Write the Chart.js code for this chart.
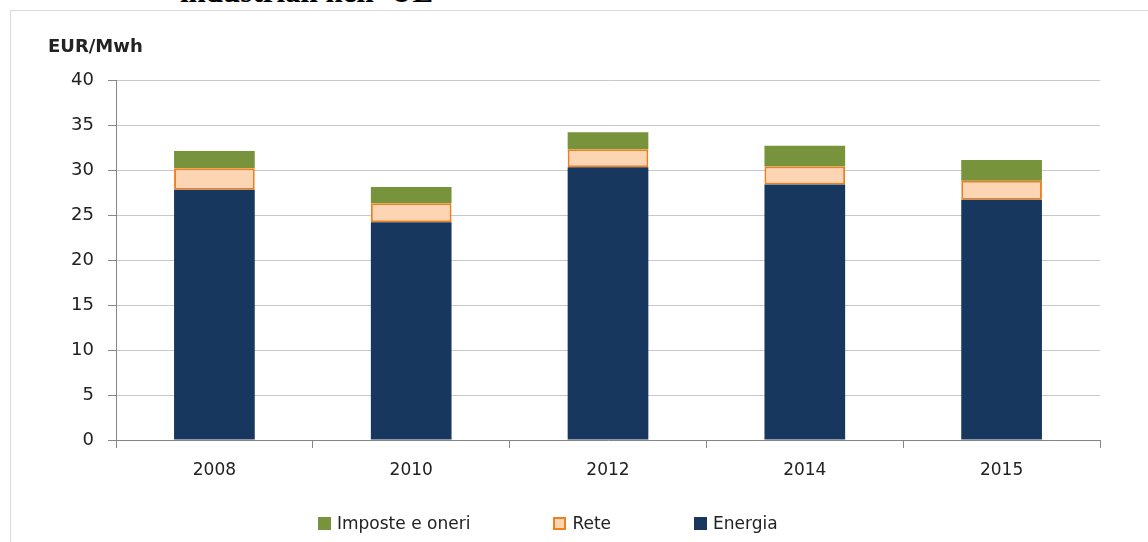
<!DOCTYPE html>
<html>
<head>
<meta charset="utf-8">
<script src="https://cdn.jsdelivr.net/npm/chart.js@4.4.1/dist/chart.umd.min.js"></script>
<style>
  body { margin: 0; background: #fff; }
  #wrap { position: relative; width: 1148px; height: 542px; overflow: hidden; }
  #frame { position: absolute; left: 10px; top: 10px; width: 1200px; height: 600px; border: 1px solid #d9d9d9; }
  #docTitle { position: absolute; left: 180px; top: -24px; font: bold 31px "Liberation Serif", serif; line-height: 31px; color: #000; white-space: nowrap; }
  #chartBox { position: absolute; left: 0; top: 0; width: 1148px; height: 542px; }
  #legend { position: absolute; left: 318px; top: 513px; display: flex; gap: 83px; font: 17px "DejaVu Sans", sans-serif; color: #222; }
  #legend .item { display: flex; align-items: center; }
  #legend .box { width: 13px; height: 13px; margin-right: 6px; box-sizing: border-box; }
</style>
</head>
<body>
<div id="wrap">
  <div id="frame"></div>
  <div id="docTitle">industriali nell' UE</div>
  <div id="chartBox"><canvas id="costChart" width="1148" height="542"></canvas></div>
  <div id="legend"></div>
</div>
<script>
// Data (EUR/Mwh)
const years = ['2008', '2010', '2012', '2014', '2015'];
const energia = [27.8, 24.2, 30.3, 28.4, 26.7];
const rete = [2.4, 2.1, 2.0, 2.0, 2.1];
const imposte = [1.9, 1.8, 1.9, 2.3, 2.3];
const yTicks = [0, 5, 10, 15, 20, 25, 30, 35, 40];

const axisGrey = '#868686';

// y axis title drawn above the axis, like the original
const unitLabel = {
  id: 'unitLabel',
  afterDraw(chart) {
    const c = chart.ctx;
    c.save();
    c.font = 'bold 18px "DejaVu Sans", sans-serif';
    c.fillStyle = '#222';
    c.textBaseline = 'middle';
    c.fillText('EUR/Mwh', chart.chartArea.left - 68, chart.chartArea.top - 33);
    c.restore();
  }
};

const ctx = document.getElementById('costChart').getContext('2d');
const costChart = new Chart(ctx, {
  type: 'bar',
  data: {
    labels: years,
    datasets: [
      { label: 'Energia', data: energia, backgroundColor: '#17375E', borderWidth: 0 },
      { label: 'Rete', data: rete, backgroundColor: '#FCD5B5', borderColor: '#F07F1E', borderWidth: 2, borderSkipped: false },
      { label: 'Imposte e oneri', data: imposte, backgroundColor: '#77933C', borderWidth: 0 }
    ]
  },
  options: {
    responsive: false,
    animation: false,
    layout: { padding: { left: 0, right: 48, top: 80, bottom: 60 } },
    plugins: {
      legend: { display: false },
      tooltip: { enabled: false }
    },
    datasets: { bar: { categoryPercentage: 1, barPercentage: 0.41 } },
    scales: {
      x: {
        stacked: true,
        grid: { drawOnChartArea: false, drawTicks: true, tickLength: 8, color: axisGrey, offset: true },
        border: { color: axisGrey },
        ticks: { color: '#222', font: { family: 'DejaVu Sans', size: 17 }, padding: 12 },
        afterFit(scale) { scale.height = 42; }
      },
      y: {
        stacked: true,
        min: 0,
        max: 40,
        afterBuildTicks(scale) { scale.ticks = yTicks.map(v => ({ value: v })); },
        grid: { color: '#c8c8c8', tickColor: axisGrey, tickLength: 8 },
        border: { color: axisGrey },
        ticks: { color: '#222', font: { family: 'DejaVu Sans', size: 18 }, padding: 14 },
        afterFit(scale) { scale.width = 116; }
      }
    }
  },
  plugins: [unitLabel]
});

// Legend built from the chart's datasets, reversed like the original
const legendEl = document.getElementById('legend');
costChart.data.datasets.slice().reverse().forEach(ds => {
  const item = document.createElement('div');
  item.className = 'item';
  const box = document.createElement('span');
  box.className = 'box';
  box.style.background = ds.backgroundColor;
  if (ds.borderWidth) box.style.border = '2px solid ' + ds.borderColor;
  const txt = document.createElement('span');
  txt.textContent = ds.label;
  item.appendChild(box);
  item.appendChild(txt);
  legendEl.appendChild(item);
});
</script>
</body>
</html>
